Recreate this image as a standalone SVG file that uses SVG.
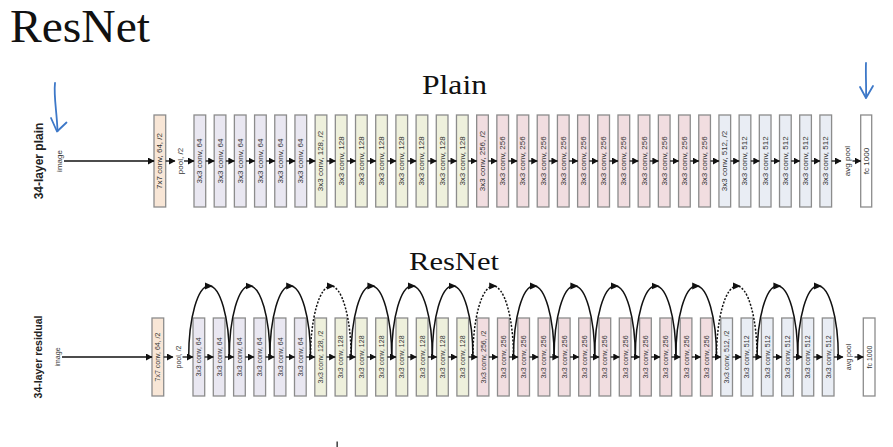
<svg xmlns="http://www.w3.org/2000/svg" xmlns:xlink="http://www.w3.org/1999/xlink" width="893" height="447" viewBox="0 0 893 447">
<defs>
<style>
.b{stroke:#8c8c8c;stroke-width:1.3}
.c7{fill:#f8e6d6}.c64{fill:#e9e7f1}.c128{fill:#eef0dc}.c256{fill:#f1dde0}.c512{fill:#e9edf4}.cfc{fill:#ffffff}
.t{font-family:"Liberation Sans",Arial,sans-serif;font-size:8px;fill:#333;text-anchor:middle;dominant-baseline:central}
.t2{font-family:"Liberation Sans",Arial,sans-serif;font-size:7px;fill:#333;text-anchor:middle;dominant-baseline:central}
.lbl{font-family:"Liberation Sans",Arial,sans-serif;font-weight:bold;fill:#222;text-anchor:middle;dominant-baseline:central}
.ttl{font-family:"Liberation Serif","Times New Roman",serif;fill:#111}
.a{fill:none;stroke:#111;stroke-width:1.3;marker-end:url(#ah)}
.sk{fill:none;stroke:#111;stroke-width:1.5;marker-mid:url(#ah2)}
.dash{stroke-dasharray:2 1.6}
.blue{fill:none;stroke:#3d78c8;stroke-width:1.8;stroke-linecap:round;stroke-linejoin:round}
</style>
<marker id="ah" markerUnits="userSpaceOnUse" markerWidth="7" markerHeight="7" refX="6" refY="3.5" orient="auto"><path d="M0,0 L6.5,3.5 L0,7 z" fill="#111"/></marker>
<marker id="ah2" markerUnits="userSpaceOnUse" markerWidth="8" markerHeight="8" refX="4" refY="4" orient="auto"><path d="M0,0.5 L8,4 L0,7.5 z" fill="#111"/></marker>
</defs>
<rect width="893" height="447" fill="#ffffff"/>

<text class="ttl" x="10" y="42" font-size="46" textLength="140" lengthAdjust="spacingAndGlyphs">ResNet</text>
<text class="ttl" x="422" y="94" font-size="28" textLength="65" lengthAdjust="spacingAndGlyphs">Plain</text>
<text class="ttl" x="409" y="270" font-size="25" textLength="90" lengthAdjust="spacingAndGlyphs">ResNet</text>

<g id="hand-marks">
<path class="blue" d="M55 83 C53.5 96, 57 113, 57.5 131"/>
<path class="blue" d="M51 118 L57 131.5 L66.5 122.5"/>
<path class="blue" d="M866 63 C865.5 75, 866.5 88, 866 97.5"/>
<path class="blue" d="M860 87 L866 98 L873 86"/>
<rect x="336.5" y="441.5" width="1.3" height="5.5" fill="#222"/>
</g>

<!-- ===== Plain row ===== -->
<text class="lbl" font-size="12" transform="translate(39,161) rotate(-90)">34-layer plain</text>
<g id="p-image"><text class="t" font-size="7.5" transform="translate(59.5,161) rotate(-90)">image</text></g>
<g id="p-conv7"><rect class="b c7" x="154" y="115" width="11.7" height="92"/><text class="t" transform="translate(159.85,161) rotate(-90)">7x7 conv, 64, /2</text></g>
<g id="p-pool"><text class="t" font-size="7.5" transform="translate(180,161) rotate(-90)">pool, /2</text></g>
<g id="p-c0" transform="translate(194,115)"><rect class="b c64" width="11.7" height="92"/><text class="t" transform="translate(5.85,46) rotate(-90)">3x3 conv, 64</text></g>
<g id="p-c1" transform="translate(214.19,115)"><rect class="b c64" width="11.7" height="92"/><text class="t" transform="translate(5.85,46) rotate(-90)">3x3 conv, 64</text></g>
<g id="p-c2" transform="translate(234.38,115)"><rect class="b c64" width="11.7" height="92"/><text class="t" transform="translate(5.85,46) rotate(-90)">3x3 conv, 64</text></g>
<g id="p-c3" transform="translate(254.57,115)"><rect class="b c64" width="11.7" height="92"/><text class="t" transform="translate(5.85,46) rotate(-90)">3x3 conv, 64</text></g>
<g id="p-c4" transform="translate(274.76,115)"><rect class="b c64" width="11.7" height="92"/><text class="t" transform="translate(5.85,46) rotate(-90)">3x3 conv, 64</text></g>
<g id="p-c5" transform="translate(294.95,115)"><rect class="b c64" width="11.7" height="92"/><text class="t" transform="translate(5.85,46) rotate(-90)">3x3 conv, 64</text></g>
<g id="p-c6" transform="translate(315.14,115)"><rect class="b c128" width="11.7" height="92"/><text class="t" transform="translate(5.85,46) rotate(-90)">3x3 conv, 128, /2</text></g>
<g id="p-c7" transform="translate(335.33,115)"><rect class="b c128" width="11.7" height="92"/><text class="t" transform="translate(5.85,46) rotate(-90)">3x3 conv, 128</text></g>
<g id="p-c8" transform="translate(355.52,115)"><rect class="b c128" width="11.7" height="92"/><text class="t" transform="translate(5.85,46) rotate(-90)">3x3 conv, 128</text></g>
<g id="p-c9" transform="translate(375.71,115)"><rect class="b c128" width="11.7" height="92"/><text class="t" transform="translate(5.85,46) rotate(-90)">3x3 conv, 128</text></g>
<g id="p-c10" transform="translate(395.9,115)"><rect class="b c128" width="11.7" height="92"/><text class="t" transform="translate(5.85,46) rotate(-90)">3x3 conv, 128</text></g>
<g id="p-c11" transform="translate(416.09,115)"><rect class="b c128" width="11.7" height="92"/><text class="t" transform="translate(5.85,46) rotate(-90)">3x3 conv, 128</text></g>
<g id="p-c12" transform="translate(436.28,115)"><rect class="b c128" width="11.7" height="92"/><text class="t" transform="translate(5.85,46) rotate(-90)">3x3 conv, 128</text></g>
<g id="p-c13" transform="translate(456.47,115)"><rect class="b c128" width="11.7" height="92"/><text class="t" transform="translate(5.85,46) rotate(-90)">3x3 conv, 128</text></g>
<g id="p-c14" transform="translate(476.66,115)"><rect class="b c256" width="11.7" height="92"/><text class="t" transform="translate(5.85,46) rotate(-90)">3x3 conv, 256, /2</text></g>
<g id="p-c15" transform="translate(496.85,115)"><rect class="b c256" width="11.7" height="92"/><text class="t" transform="translate(5.85,46) rotate(-90)">3x3 conv, 256</text></g>
<g id="p-c16" transform="translate(517.04,115)"><rect class="b c256" width="11.7" height="92"/><text class="t" transform="translate(5.85,46) rotate(-90)">3x3 conv, 256</text></g>
<g id="p-c17" transform="translate(537.23,115)"><rect class="b c256" width="11.7" height="92"/><text class="t" transform="translate(5.85,46) rotate(-90)">3x3 conv, 256</text></g>
<g id="p-c18" transform="translate(557.42,115)"><rect class="b c256" width="11.7" height="92"/><text class="t" transform="translate(5.85,46) rotate(-90)">3x3 conv, 256</text></g>
<g id="p-c19" transform="translate(577.61,115)"><rect class="b c256" width="11.7" height="92"/><text class="t" transform="translate(5.85,46) rotate(-90)">3x3 conv, 256</text></g>
<g id="p-c20" transform="translate(597.8,115)"><rect class="b c256" width="11.7" height="92"/><text class="t" transform="translate(5.85,46) rotate(-90)">3x3 conv, 256</text></g>
<g id="p-c21" transform="translate(617.99,115)"><rect class="b c256" width="11.7" height="92"/><text class="t" transform="translate(5.85,46) rotate(-90)">3x3 conv, 256</text></g>
<g id="p-c22" transform="translate(638.18,115)"><rect class="b c256" width="11.7" height="92"/><text class="t" transform="translate(5.85,46) rotate(-90)">3x3 conv, 256</text></g>
<g id="p-c23" transform="translate(658.37,115)"><rect class="b c256" width="11.7" height="92"/><text class="t" transform="translate(5.85,46) rotate(-90)">3x3 conv, 256</text></g>
<g id="p-c24" transform="translate(678.56,115)"><rect class="b c256" width="11.7" height="92"/><text class="t" transform="translate(5.85,46) rotate(-90)">3x3 conv, 256</text></g>
<g id="p-c25" transform="translate(698.75,115)"><rect class="b c256" width="11.7" height="92"/><text class="t" transform="translate(5.85,46) rotate(-90)">3x3 conv, 256</text></g>
<g id="p-c26" transform="translate(718.94,115)"><rect class="b c512" width="11.7" height="92"/><text class="t" transform="translate(5.85,46) rotate(-90)">3x3 conv, 512, /2</text></g>
<g id="p-c27" transform="translate(739.13,115)"><rect class="b c512" width="11.7" height="92"/><text class="t" transform="translate(5.85,46) rotate(-90)">3x3 conv, 512</text></g>
<g id="p-c28" transform="translate(759.32,115)"><rect class="b c512" width="11.7" height="92"/><text class="t" transform="translate(5.85,46) rotate(-90)">3x3 conv, 512</text></g>
<g id="p-c29" transform="translate(779.51,115)"><rect class="b c512" width="11.7" height="92"/><text class="t" transform="translate(5.85,46) rotate(-90)">3x3 conv, 512</text></g>
<g id="p-c30" transform="translate(799.7,115)"><rect class="b c512" width="11.7" height="92"/><text class="t" transform="translate(5.85,46) rotate(-90)">3x3 conv, 512</text></g>
<g id="p-c31" transform="translate(819.89,115)"><rect class="b c512" width="11.7" height="92"/><text class="t" transform="translate(5.85,46) rotate(-90)">3x3 conv, 512</text></g>
<g id="p-avgpool"><text class="t" font-size="7.5" transform="translate(847,161) rotate(-90)">avg pool</text></g>
<g id="p-fc"><rect class="b cfc" x="860.7" y="115" width="11" height="92"/><text class="t" transform="translate(866.2,161) rotate(-90)">fc 1000</text></g>

<!-- ===== Residual row ===== -->
<text class="lbl" font-size="10.5" transform="translate(38,357) rotate(-90)">34-layer residual</text>
<g id="r-image"><text class="t2" transform="translate(57,357) rotate(-90)">image</text></g>
<g id="r-conv7"><rect class="b c7" x="152" y="318" width="11.7" height="78"/><text class="t2" transform="translate(157.85,357) rotate(-90)">7x7 conv, 64, /2</text></g>
<g id="r-pool"><text class="t2" transform="translate(178,357) rotate(-90)">pool, /2</text></g>
<g id="r-c0" transform="translate(193,318)"><rect class="b c64" width="11.7" height="78"/><text class="t2" transform="translate(5.85,39) rotate(-90)">3x3 conv, 64</text></g>
<g id="r-c1" transform="translate(213.3,318)"><rect class="b c64" width="11.7" height="78"/><text class="t2" transform="translate(5.85,39) rotate(-90)">3x3 conv, 64</text></g>
<g id="r-c2" transform="translate(233.6,318)"><rect class="b c64" width="11.7" height="78"/><text class="t2" transform="translate(5.85,39) rotate(-90)">3x3 conv, 64</text></g>
<g id="r-c3" transform="translate(253.9,318)"><rect class="b c64" width="11.7" height="78"/><text class="t2" transform="translate(5.85,39) rotate(-90)">3x3 conv, 64</text></g>
<g id="r-c4" transform="translate(274.2,318)"><rect class="b c64" width="11.7" height="78"/><text class="t2" transform="translate(5.85,39) rotate(-90)">3x3 conv, 64</text></g>
<g id="r-c5" transform="translate(294.5,318)"><rect class="b c64" width="11.7" height="78"/><text class="t2" transform="translate(5.85,39) rotate(-90)">3x3 conv, 64</text></g>
<g id="r-c6" transform="translate(314.8,318)"><rect class="b c128" width="11.7" height="78"/><text class="t2" transform="translate(5.85,39) rotate(-90)">3x3 conv, 128, /2</text></g>
<g id="r-c7" transform="translate(335.1,318)"><rect class="b c128" width="11.7" height="78"/><text class="t2" transform="translate(5.85,39) rotate(-90)">3x3 conv, 128</text></g>
<g id="r-c8" transform="translate(355.4,318)"><rect class="b c128" width="11.7" height="78"/><text class="t2" transform="translate(5.85,39) rotate(-90)">3x3 conv, 128</text></g>
<g id="r-c9" transform="translate(375.7,318)"><rect class="b c128" width="11.7" height="78"/><text class="t2" transform="translate(5.85,39) rotate(-90)">3x3 conv, 128</text></g>
<g id="r-c10" transform="translate(396,318)"><rect class="b c128" width="11.7" height="78"/><text class="t2" transform="translate(5.85,39) rotate(-90)">3x3 conv, 128</text></g>
<g id="r-c11" transform="translate(416.3,318)"><rect class="b c128" width="11.7" height="78"/><text class="t2" transform="translate(5.85,39) rotate(-90)">3x3 conv, 128</text></g>
<g id="r-c12" transform="translate(436.6,318)"><rect class="b c128" width="11.7" height="78"/><text class="t2" transform="translate(5.85,39) rotate(-90)">3x3 conv, 128</text></g>
<g id="r-c13" transform="translate(456.9,318)"><rect class="b c128" width="11.7" height="78"/><text class="t2" transform="translate(5.85,39) rotate(-90)">3x3 conv, 128</text></g>
<g id="r-c14" transform="translate(477.2,318)"><rect class="b c256" width="11.7" height="78"/><text class="t2" transform="translate(5.85,39) rotate(-90)">3x3 conv, 256, /2</text></g>
<g id="r-c15" transform="translate(497.5,318)"><rect class="b c256" width="11.7" height="78"/><text class="t2" transform="translate(5.85,39) rotate(-90)">3x3 conv, 256</text></g>
<g id="r-c16" transform="translate(517.8,318)"><rect class="b c256" width="11.7" height="78"/><text class="t2" transform="translate(5.85,39) rotate(-90)">3x3 conv, 256</text></g>
<g id="r-c17" transform="translate(538.1,318)"><rect class="b c256" width="11.7" height="78"/><text class="t2" transform="translate(5.85,39) rotate(-90)">3x3 conv, 256</text></g>
<g id="r-c18" transform="translate(558.4,318)"><rect class="b c256" width="11.7" height="78"/><text class="t2" transform="translate(5.85,39) rotate(-90)">3x3 conv, 256</text></g>
<g id="r-c19" transform="translate(578.7,318)"><rect class="b c256" width="11.7" height="78"/><text class="t2" transform="translate(5.85,39) rotate(-90)">3x3 conv, 256</text></g>
<g id="r-c20" transform="translate(599,318)"><rect class="b c256" width="11.7" height="78"/><text class="t2" transform="translate(5.85,39) rotate(-90)">3x3 conv, 256</text></g>
<g id="r-c21" transform="translate(619.3,318)"><rect class="b c256" width="11.7" height="78"/><text class="t2" transform="translate(5.85,39) rotate(-90)">3x3 conv, 256</text></g>
<g id="r-c22" transform="translate(639.6,318)"><rect class="b c256" width="11.7" height="78"/><text class="t2" transform="translate(5.85,39) rotate(-90)">3x3 conv, 256</text></g>
<g id="r-c23" transform="translate(659.9,318)"><rect class="b c256" width="11.7" height="78"/><text class="t2" transform="translate(5.85,39) rotate(-90)">3x3 conv, 256</text></g>
<g id="r-c24" transform="translate(680.2,318)"><rect class="b c256" width="11.7" height="78"/><text class="t2" transform="translate(5.85,39) rotate(-90)">3x3 conv, 256</text></g>
<g id="r-c25" transform="translate(700.5,318)"><rect class="b c256" width="11.7" height="78"/><text class="t2" transform="translate(5.85,39) rotate(-90)">3x3 conv, 256</text></g>
<g id="r-c26" transform="translate(720.8,318)"><rect class="b c512" width="11.7" height="78"/><text class="t2" transform="translate(5.85,39) rotate(-90)">3x3 conv, 512, /2</text></g>
<g id="r-c27" transform="translate(741.1,318)"><rect class="b c512" width="11.7" height="78"/><text class="t2" transform="translate(5.85,39) rotate(-90)">3x3 conv, 512</text></g>
<g id="r-c28" transform="translate(761.4,318)"><rect class="b c512" width="11.7" height="78"/><text class="t2" transform="translate(5.85,39) rotate(-90)">3x3 conv, 512</text></g>
<g id="r-c29" transform="translate(781.7,318)"><rect class="b c512" width="11.7" height="78"/><text class="t2" transform="translate(5.85,39) rotate(-90)">3x3 conv, 512</text></g>
<g id="r-c30" transform="translate(802,318)"><rect class="b c512" width="11.7" height="78"/><text class="t2" transform="translate(5.85,39) rotate(-90)">3x3 conv, 512</text></g>
<g id="r-c31" transform="translate(822.3,318)"><rect class="b c512" width="11.7" height="78"/><text class="t2" transform="translate(5.85,39) rotate(-90)">3x3 conv, 512</text></g>
<g id="r-avgpool"><text class="t2" transform="translate(848.5,357) rotate(-90)">avg pool</text></g>
<g id="r-fc"><rect class="b cfc" x="863.3" y="318" width="11.7" height="78"/><text class="t2" transform="translate(869.15,357) rotate(-90)">fc 1000</text></g>

<g id="connectors">
<path class="a" d="M64 161H154"/>
<path class="a" d="M165.7 161H175"/>
<path class="a" d="M184 161H194"/>
<path class="a" d="M205.7 161H214.19"/>
<path class="a" d="M225.89 161H234.38"/>
<path class="a" d="M246.08 161H254.57"/>
<path class="a" d="M266.27 161H274.76"/>
<path class="a" d="M286.46 161H294.95"/>
<path class="a" d="M306.65 161H315.14"/>
<path class="a" d="M326.84 161H335.33"/>
<path class="a" d="M347.03 161H355.52"/>
<path class="a" d="M367.22 161H375.71"/>
<path class="a" d="M387.41 161H395.9"/>
<path class="a" d="M407.6 161H416.09"/>
<path class="a" d="M427.79 161H436.28"/>
<path class="a" d="M447.98 161H456.47"/>
<path class="a" d="M468.17 161H476.66"/>
<path class="a" d="M488.36 161H496.85"/>
<path class="a" d="M508.55 161H517.04"/>
<path class="a" d="M528.74 161H537.23"/>
<path class="a" d="M548.93 161H557.42"/>
<path class="a" d="M569.12 161H577.61"/>
<path class="a" d="M589.31 161H597.8"/>
<path class="a" d="M609.5 161H617.99"/>
<path class="a" d="M629.69 161H638.18"/>
<path class="a" d="M649.88 161H658.37"/>
<path class="a" d="M670.07 161H678.56"/>
<path class="a" d="M690.26 161H698.75"/>
<path class="a" d="M710.45 161H718.94"/>
<path class="a" d="M730.64 161H739.13"/>
<path class="a" d="M750.83 161H759.32"/>
<path class="a" d="M771.02 161H779.51"/>
<path class="a" d="M791.21 161H799.7"/>
<path class="a" d="M811.4 161H819.89"/>
<path class="a" d="M831.6 161H841"/>
<path class="a" d="M852.5 161H860.7"/>

<path class="a" d="M62 357H152"/>
<path class="a" d="M163.7 357H173"/>
<path class="a" d="M182.5 357H193"/>
<path class="a" d="M204.7 357H213.3"/>
<path class="a" d="M225 357H233.6"/>
<path class="a" d="M245.3 357H253.9"/>
<path class="a" d="M265.6 357H274.2"/>
<path class="a" d="M285.9 357H294.5"/>
<path class="a" d="M306.2 357H314.8"/>
<path class="a" d="M326.5 357H335.1"/>
<path class="a" d="M346.8 357H355.4"/>
<path class="a" d="M367.1 357H375.7"/>
<path class="a" d="M387.4 357H396"/>
<path class="a" d="M407.7 357H416.3"/>
<path class="a" d="M428 357H436.6"/>
<path class="a" d="M448.3 357H456.9"/>
<path class="a" d="M468.6 357H477.2"/>
<path class="a" d="M488.9 357H497.5"/>
<path class="a" d="M509.2 357H517.8"/>
<path class="a" d="M529.5 357H538.1"/>
<path class="a" d="M549.8 357H558.4"/>
<path class="a" d="M570.1 357H578.7"/>
<path class="a" d="M590.4 357H599"/>
<path class="a" d="M610.7 357H619.3"/>
<path class="a" d="M631 357H639.6"/>
<path class="a" d="M651.3 357H659.9"/>
<path class="a" d="M671.6 357H680.2"/>
<path class="a" d="M691.9 357H700.5"/>
<path class="a" d="M712.2 357H720.8"/>
<path class="a" d="M732.5 357H741.1"/>
<path class="a" d="M752.8 357H761.4"/>
<path class="a" d="M773.1 357H781.7"/>
<path class="a" d="M793.4 357H802"/>
<path class="a" d="M813.7 357H822.3"/>
<path class="a" d="M834 357H843"/>
<path class="a" d="M854.5 357H863.3"/>

<path class="sk" d="M188.7 357A20.3 71 0 0 1 209 286A20.3 71 0 0 1 229.3 357"/>
<path class="sk" d="M229.3 357A20.3 71 0 0 1 249.6 286A20.3 71 0 0 1 269.9 357"/>
<path class="sk" d="M269.9 357A20.3 71 0 0 1 290.2 286A20.3 71 0 0 1 310.5 357"/>
<path class="sk dash" d="M310.5 357A20.3 71 0 0 1 330.8 286A20.3 71 0 0 1 351.1 357"/>
<path class="sk" d="M351.1 357A20.3 71 0 0 1 371.4 286A20.3 71 0 0 1 391.7 357"/>
<path class="sk" d="M391.7 357A20.3 71 0 0 1 412 286A20.3 71 0 0 1 432.3 357"/>
<path class="sk" d="M432.3 357A20.3 71 0 0 1 452.6 286A20.3 71 0 0 1 472.9 357"/>
<path class="sk dash" d="M472.9 357A20.3 71 0 0 1 493.2 286A20.3 71 0 0 1 513.5 357"/>
<path class="sk" d="M513.5 357A20.3 71 0 0 1 533.8 286A20.3 71 0 0 1 554.1 357"/>
<path class="sk" d="M554.1 357A20.3 71 0 0 1 574.4 286A20.3 71 0 0 1 594.7 357"/>
<path class="sk" d="M594.7 357A20.3 71 0 0 1 615 286A20.3 71 0 0 1 635.3 357"/>
<path class="sk" d="M635.3 357A20.3 71 0 0 1 655.6 286A20.3 71 0 0 1 675.9 357"/>
<path class="sk" d="M675.9 357A20.3 71 0 0 1 696.2 286A20.3 71 0 0 1 716.5 357"/>
<path class="sk dash" d="M716.5 357A20.3 71 0 0 1 736.8 286A20.3 71 0 0 1 757.1 357"/>
<path class="sk" d="M757.1 357A20.3 71 0 0 1 777.4 286A20.3 71 0 0 1 797.7 357"/>
<path class="sk" d="M797.7 357A20.3 71 0 0 1 818 286A20.3 71 0 0 1 838.3 357"/>
</g>
</svg>
